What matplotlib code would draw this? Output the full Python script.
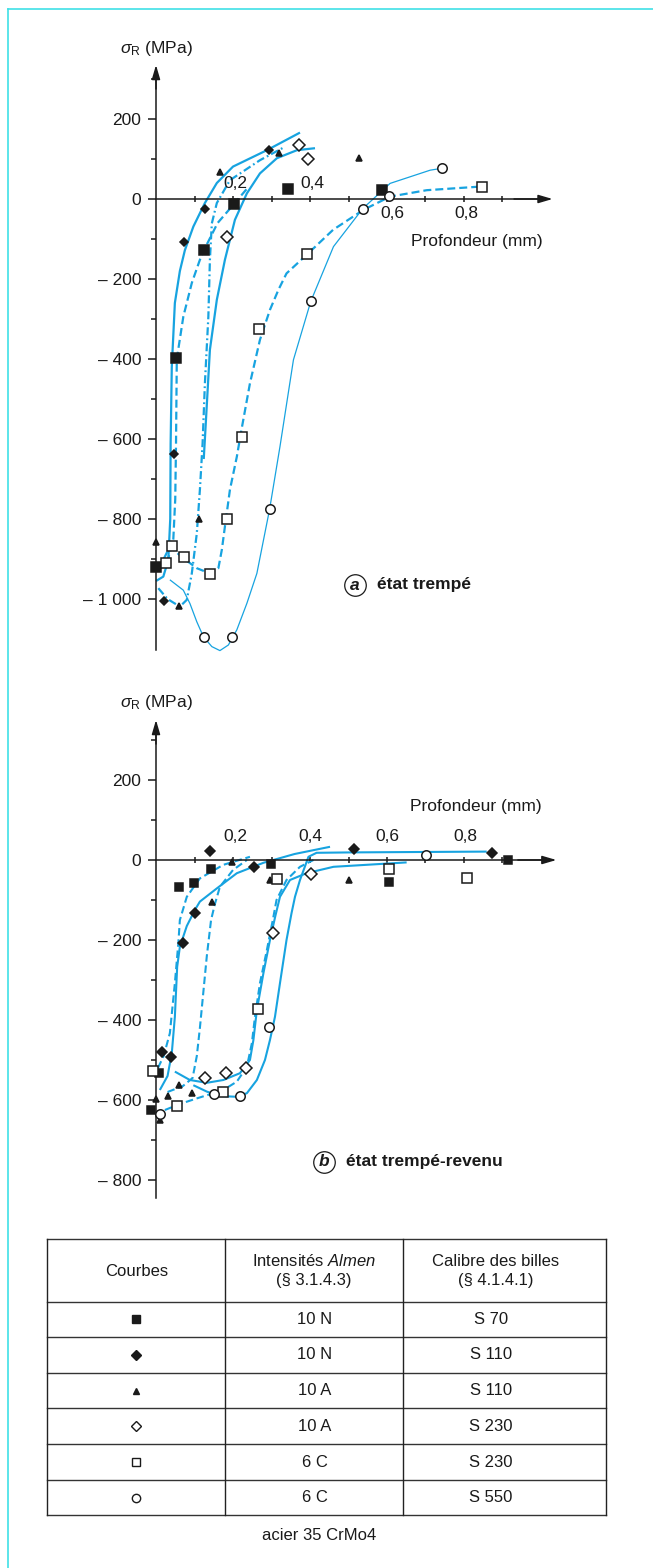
import matplotlib.pyplot as plt
from matplotlib.lines import Line2D

# a) état trempé : points mesurés (profondeur en mm, contrainte résiduelle en MPa)
a_n70_x = [0.0, 0.052, 0.125, 0.203, 0.342, 0.586]
a_n70_y = [-920, -398, -127, -12, 25, 22]
a_n110_x = [0.022, 0.047, 0.074, 0.128, 0.293]
a_n110_y = [-1004, -637, -108, -24, 122]
a_a110_x = [0.0, 0.059, 0.111, 0.166, 0.320, 0.527]
a_a110_y = [-857, -1017, -801, 67, 114, 103]
a_a230_x = [0.184, 0.371, 0.394]
a_a230_y = [-96, 136, 100]
a_c230_x = [0.025, 0.041, 0.074, 0.139, 0.184, 0.223, 0.268, 0.393, 0.848]
a_c230_y = [-909, -867, -894, -937, -800, -595, -326, -138, 30]
a_c550_x = [0.125, 0.197, 0.295, 0.402, 0.537, 0.604, 0.744]
a_c550_y = [-1096, -1096, -776, -256, -24, 7, 77]

# a) courbes tracées à la main
a_n110_cx = [0.0, 0.019, 0.032, 0.037, 0.038, 0.041, 0.049, 0.062, 0.075, 0.097, 0.127, 0.158, 0.2, 0.288, 0.374]
a_n110_cy = [-955, -944, -902, -800, -611, -420, -260, -180, -128, -69, -10, 40, 81, 122, 166]
a_n70_cx = [0.005, 0.03, 0.045, 0.05, 0.052, 0.054, 0.071, 0.093, 0.114, 0.125, 0.16, 0.203, 0.24]
a_n70_cy = [-930, -905, -850, -750, -611, -400, -294, -210, -152, -127, -60, -12, 30]
a_a110_cx = [0.006, 0.03, 0.062, 0.08, 0.093, 0.106, 0.114, 0.121, 0.127, 0.136, 0.14, 0.145, 0.158, 0.192, 0.27, 0.33]
a_a110_cy = [-973, -1000, -1019, -1002, -936, -836, -727, -611, -461, -294, -152, -61, -10, 47, 97, 128]
a_a230_cx = [0.124, 0.127, 0.14, 0.158, 0.179, 0.205, 0.236, 0.27, 0.314, 0.366, 0.413]
a_a230_cy = [-650, -600, -377, -252, -152, -52, 14, 64, 102, 122, 127]
a_c230_cx = [0.02, 0.036, 0.071, 0.106, 0.14, 0.162, 0.171, 0.179, 0.192, 0.21, 0.222, 0.244, 0.27,
             0.296, 0.318, 0.339, 0.393, 0.46, 0.539, 0.608, 0.703, 0.842]
a_c230_cy = [-900, -869, -898, -923, -936, -923, -877, -819, -727, -644, -577, -461, -352,
             -277, -227, -186, -138, -77, -27, 6, 22, 31]
a_c550_cx = [0.036, 0.071, 0.088, 0.106, 0.123, 0.145, 0.166, 0.188, 0.21, 0.236, 0.262, 0.295,
             0.322, 0.357, 0.402, 0.461, 0.537, 0.608, 0.712, 0.744]
a_c550_cy = [-952, -978, -1011, -1057, -1094, -1119, -1129, -1115, -1077, -1011, -936, -776,
             -619, -402, -256, -119, -24, 39, 72, 77]

# b) état trempé-revenu : points mesurés
b_n70_x = [-0.012, 0.009, 0.061, 0.098, 0.142, 0.298, 0.606, 0.915]
b_n70_y = [-625, -533, -68, -58, -22, -11, -56, 0]
b_n110_x = [0.015, 0.038, 0.071, 0.101, 0.14, 0.255, 0.515, 0.872]
b_n110_y = [-481, -492, -207, -132, 22, -18, 27, 17]
b_a110_x = [0.0, 0.01, 0.032, 0.06, 0.093, 0.146, 0.198, 0.296, 0.5]
b_a110_y = [-598, -650, -590, -563, -582, -104, -4, -50, -50]
b_a230_x = [0.127, 0.182, 0.234, 0.303, 0.402]
b_a230_y = [-544, -533, -519, -183, -36]
b_c230_x = [-0.007, 0.054, 0.173, 0.264, 0.313, 0.606, 0.807]
b_c230_y = [-527, -615, -581, -372, -48, -22, -44]
b_c550_x = [0.01, 0.151, 0.218, 0.294, 0.701]
b_c550_y = [-636, -585, -590, -417, 12]

# b) courbes
b_n110_cx = [0.01, 0.03, 0.041, 0.049, 0.055, 0.062, 0.08, 0.101, 0.114, 0.158, 0.21, 0.279, 0.36, 0.452]
b_n110_cy = [-575, -540, -483, -392, -267, -217, -165, -125, -104, -71, -33, -7, 15, 33]
b_n70_cx = [0.005, 0.02, 0.036, 0.049, 0.058, 0.062, 0.08, 0.114, 0.175, 0.244]
b_n70_cy = [-520, -490, -433, -308, -208, -150, -92, -46, -12, 8]
b_a110_cx = [0.03, 0.07, 0.095, 0.106, 0.114, 0.123, 0.132, 0.143, 0.153, 0.166, 0.2, 0.236]
b_a110_cy = [-580, -565, -545, -490, -420, -330, -240, -150, -110, -67, -25, 0]
b_a230_cx = [0.049, 0.088, 0.132, 0.175, 0.218, 0.244, 0.253, 0.262, 0.279, 0.296, 0.31, 0.322,
             0.348, 0.391, 0.461, 0.651]
b_a230_cy = [-529, -550, -557, -550, -533, -500, -450, -375, -283, -200, -140, -92,
             -50, -33, -17, -6]
b_c230_cx = [0.023, 0.062, 0.106, 0.149, 0.175, 0.21, 0.236, 0.249, 0.257, 0.27, 0.288, 0.305,
             0.313, 0.339, 0.374, 0.409]
b_c230_cy = [-625, -610, -596, -583, -575, -554, -517, -458, -392, -308, -225, -142,
             -100, -50, -17, 0]
b_c550_cx = [0.097, 0.132, 0.166, 0.21, 0.236, 0.262, 0.283, 0.296, 0.309, 0.322, 0.339, 0.352,
             0.361, 0.374, 0.396, 0.417, 0.507, 0.859]
b_c550_cy = [-563, -579, -590, -592, -583, -550, -500, -450, -392, -308, -200, -133,
             -92, -50, 8, 18, 19, 21]

# tableau de légende
tab_int = ['10 N', '10 N', '10 A', '10 A', '6 C', '6 C']
tab_cal = ['S 70', 'S 110', 'S 110', 'S 230', 'S 230', 'S 550']

a_yticks = [200, 0, -200, -400, -600, -800, -1000]
a_ylabels = ['200', '0', '\u2013 200', '\u2013 400', '\u2013 600', '\u2013 800', '\u2013 1 000']
b_yticks = [200, 0, -200, -400, -600, -800]
b_ylabels = ['200', '0', '\u2013 200', '\u2013 400', '\u2013 600', '\u2013 800']

W, H, DPI = 653, 1568, 100
BLUE = '#17a3e0'
INK = '#1a1a1a'

plt.rcParams['font.family'] = ['Liberation Sans', 'DejaVu Sans']
plt.rcParams['mathtext.fontset'] = 'custom'
plt.rcParams['mathtext.rm'] = 'Liberation Sans'
plt.rcParams['mathtext.it'] = 'Liberation Sans:italic'
plt.rcParams['mathtext.bf'] = 'Liberation Sans:bold'

fig = plt.figure(figsize=(W / DPI, H / DPI), dpi=DPI)

# liseré du cadre
fig.add_artist(Line2D([8 / W, 8 / W], [0, 1 - 9 / H], color='#3fe0e6', lw=1.2))
fig.add_artist(Line2D([8 / W, 1], [1 - 9 / H, 1 - 9 / H], color='#3fe0e6', lw=1.2))

# styles : marqueur, remplissage, taille (a, b)
styles = {
    'n70': ('s', INK, 6.6, 6.4),
    'n110': ('D', INK, 3.6, 5.4),
    'a110': ('^', INK, 5.0, 5.0),
    'a230': ('D', 'white', 6.0, 6.0),
    'c230': ('s', 'white', 6.6, 6.6),
    'c550': ('o', 'white', 6.8, 6.8),
}
DASH = (0, (3.6, 1.8))
DASHDOT = (0, (3.6, 1.4, 0.8, 1.4))


def make_axes(x0, x1, y0, y1, xlim, ylim):
    ax = fig.add_axes([x0 / W, 1 - y1 / H, (x1 - x0) / W, (y1 - y0) / H])
    ax.set_xlim(*xlim)
    ax.set_ylim(*ylim)
    ax.patch.set_visible(False)
    return ax


def frame(ax, ybot, ytop, xend, yt, yl, ymin):
    for s in ['top', 'right']:
        ax.spines[s].set_visible(False)
    for s in ['left', 'bottom']:
        ax.spines[s].set_position(('data', 0))
        ax.spines[s].set_linewidth(1.1)
        ax.spines[s].set_color(INK)
    ax.spines['left'].set_bounds(ybot, ytop - 20)
    ax.spines['bottom'].set_bounds(0, xend - 0.02)
    ax.set_yticks(yt)
    ax.set_yticklabels(yl)
    ax.set_yticks(ymin, minor=True)
    ax.tick_params(axis='y', which='major', direction='out', length=5.8, width=1.1,
                   pad=5, labelsize=12.5, colors=INK)
    ax.tick_params(axis='y', which='minor', direction='out', length=3.6, width=1.1, colors=INK)
    ax.set_xticks([0.1, 0.2, 0.3, 0.4, 0.5, 0.6, 0.7, 0.8, 0.9])
    ax.set_xticklabels([])
    ax.tick_params(axis='x', which='major', direction='inout', length=5, width=1.1, colors=INK)
    head = dict(arrowstyle='-|>,head_length=0.85,head_width=0.25', color=INK, lw=1.1,
                shrinkA=0, shrinkB=0)
    ax.annotate('', xy=(0, ytop), xytext=(0, ytop - 60), arrowprops=head, annotation_clip=False)
    ax.annotate('', xy=(xend, 0), xytext=(xend - 0.1, 0), arrowprops=head, annotation_clip=False)


def series(ax, key, x, y, cx, cy, ls, lw, which):
    ax.plot(cx, cy, color=BLUE, lw=lw, linestyle=ls, zorder=2, solid_capstyle='butt')
    m, fc, sa, sb = styles[key]
    ax.plot(x, y, linestyle='none', marker=m, ms=sa if which == 'a' else sb,
            mfc=fc, mec=INK, mew=1.1, zorder=3, clip_on=False)


def tag(ax, x, y, letter, text):
    ax.plot([x], [y], marker='o', ms=15.5, mfc='white', mec=INK, mew=0.9, clip_on=False)
    ax.text(x, y, letter, ha='center', va='center', fontsize=12.5, fontweight='bold',
            fontstyle='italic', color=INK)
    ax.text(x + 0.057, y, text, ha='left', va='center', fontsize=12.5, fontweight='bold', color=INK)


# ---------- a) état trempé ----------
ax = make_axes(109.8, 571.8, 39, 663, (-0.12, 1.08), (-1160, 400))
frame(ax, -1128, 335, 1.03, a_yticks, a_ylabels, [300, 100, -100, -300, -500, -700, -900])
series(ax, 'n110', a_n110_x, a_n110_y, a_n110_cx, a_n110_cy, '-', 1.6, 'a')
series(ax, 'n70', a_n70_x, a_n70_y, a_n70_cx, a_n70_cy, DASH, 1.6, 'a')
series(ax, 'a110', a_a110_x, a_a110_y, a_a110_cx, a_a110_cy, DASHDOT, 1.6, 'a')
series(ax, 'a230', a_a230_x, a_a230_y, a_a230_cx, a_a230_cy, '-', 1.6, 'a')
series(ax, 'c230', a_c230_x, a_c230_y, a_c230_cx, a_c230_cy, DASH, 1.6, 'a')
series(ax, 'c550', a_c550_x, a_c550_y, a_c550_cx, a_c550_cy, '-', 0.9, 'a')
ax.text(-0.094, 377, r'$\sigma_{\mathrm{R}}$ (MPa)', ha='left', va='center', fontsize=12.5, color=INK)
for xv, yv, s in [(0.205, 40, '0,2'), (0.405, 40, '0,4'), (0.613, -37, '0,6'), (0.805, -37, '0,8')]:
    ax.text(xv, yv, s, ha='center', va='center', fontsize=12.5, color=INK)
ax.text(0.834, -107, 'Profondeur (mm)', ha='center', va='center', fontsize=12.5, color=INK)
tag(ax, 0.517, -965, 'a', 'état trempé')

# ---------- b) état trempé-revenu ----------
bx = make_axes(109.8, 571.8, 692, 1212, (-0.12, 1.08), (-880, 420))
frame(bx, -845, 350, 1.04, b_yticks, b_ylabels, [300, 100, -100, -300, -500, -700])
series(bx, 'n110', b_n110_x, b_n110_y, b_n110_cx, b_n110_cy, '-', 1.5, 'b')
series(bx, 'n70', b_n70_x, b_n70_y, b_n70_cx, b_n70_cy, DASH, 1.5, 'b')
series(bx, 'a110', b_a110_x, b_a110_y, b_a110_cx, b_a110_cy, DASH, 1.5, 'b')
series(bx, 'a230', b_a230_x, b_a230_y, b_a230_cx, b_a230_cy, '-', 1.5, 'b')
series(bx, 'c230', b_c230_x, b_c230_y, b_c230_cx, b_c230_cy, DASH, 1.5, 'b')
series(bx, 'c550', b_c550_x, b_c550_y, b_c550_cx, b_c550_cy, '-', 1.5, 'b')
bx.text(-0.094, 395, r'$\sigma_{\mathrm{R}}$ (MPa)', ha='left', va='center', fontsize=12.5, color=INK)
for xv, s in [(0.205, '0,2'), (0.4, '0,4'), (0.601, '0,6'), (0.803, '0,8')]:
    bx.text(xv, 58, s, ha='center', va='center', fontsize=12.5, color=INK)
bx.text(0.831, 133, 'Profondeur (mm)', ha='center', va='center', fontsize=12.5, color=INK)
tag(bx, 0.437, -754, 'b', 'état trempé-revenu')

# ---------- tableau ----------
tb = fig.add_axes([0, 0, 1, 1])
tb.set_xlim(0, W)
tb.set_ylim(H, 0)
tb.axis('off')
left, right = 47, 606
cols = [225, 403]
rows = [1239, 1301.7, 1336.7, 1372.7, 1408.3, 1444.3, 1480, 1515]
for yv in rows:
    tb.plot([left, right], [yv, yv], color='#333333', lw=1.0)
for xv in [left] + cols + [right]:
    tb.plot([xv, xv], [rows[0], rows[-1]], color='#222222', lw=1.0)

tb.text(137, 1271, 'Courbes', ha='center', va='center', fontsize=12, color=INK)
tb.text(314, 1261, r'Intensités $\mathit{Almen}$', ha='center', va='center', fontsize=12, color=INK)
tb.text(314, 1281, '(§ 3.1.4.3)', ha='center', va='center', fontsize=12, color=INK)
tb.text(496, 1261, 'Calibre des billes', ha='center', va='center', fontsize=12, color=INK)
tb.text(496, 1281, '(§ 4.1.4.1)', ha='center', va='center', fontsize=12, color=INK)

tab_marks = [('s', INK, 6.2), ('D', INK, 4.8), ('^', INK, 5.0),
             ('D', 'white', 5.6), ('s', 'white', 6.0), ('o', 'white', 6.0)]
for i, (m, fc, ms) in enumerate(tab_marks):
    yc = (rows[i + 1] + rows[i + 2]) / 2
    tb.plot([136], [yc], marker=m, ms=ms, mfc=fc, mec=INK, mew=1.0, linestyle='none')
    tb.text(315, yc, tab_int[i], ha='center', va='center', fontsize=12, color=INK)
    tb.text(491, yc, tab_cal[i], ha='center', va='center', fontsize=12, color=INK)

tb.text(319, 1535, 'acier 35 CrMo4', ha='center', va='center', fontsize=12, color=INK)

fig.savefig('out.png', dpi=DPI)
